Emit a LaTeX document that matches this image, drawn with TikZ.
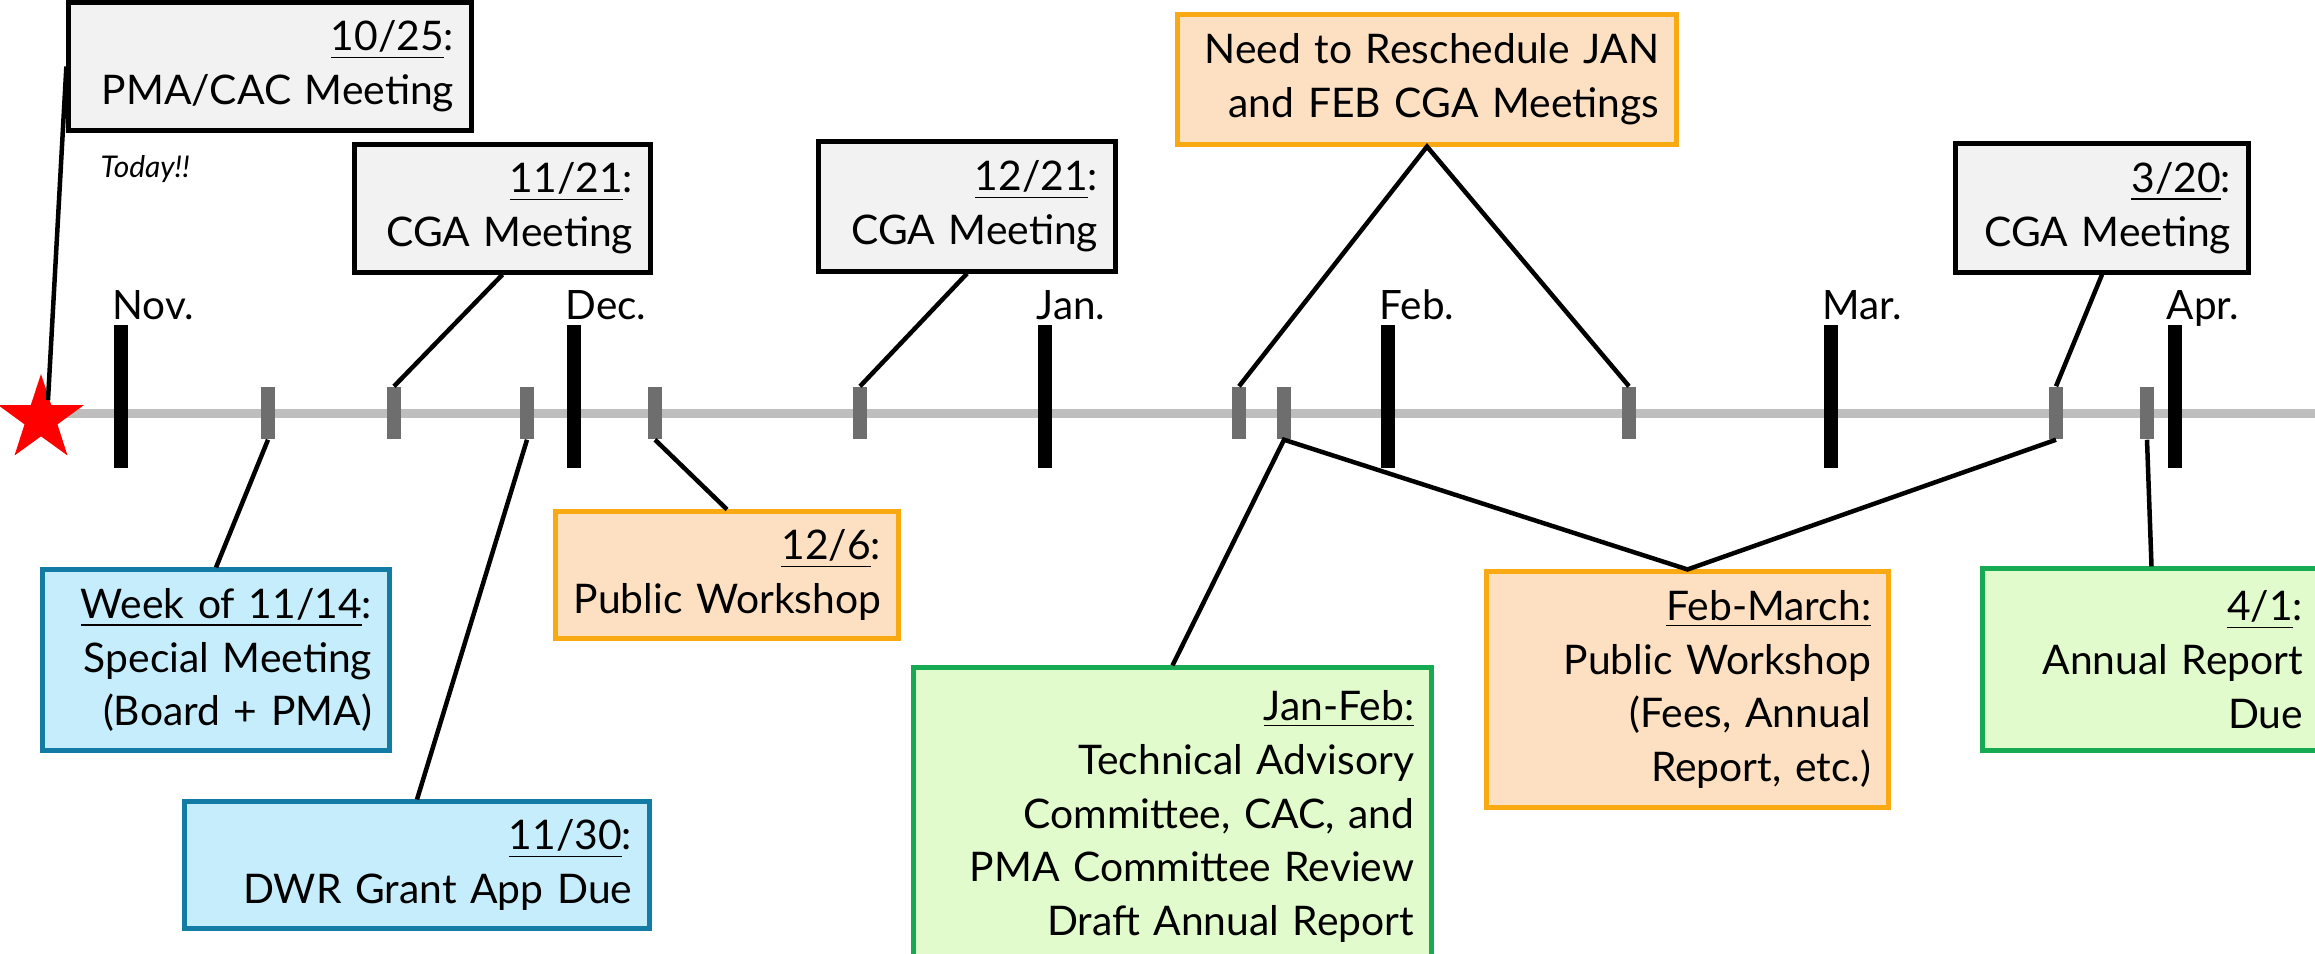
\documentclass[tikz,border=0pt]{standalone}
\usepackage{fontspec}
\setmainfont{Lato}
\usetikzlibrary{shapes.geometric,calc,positioning}

\definecolor{boxgrey}{RGB}{242,242,242}
\definecolor{blueline}{RGB}{18,124,164}
\definecolor{bluefill}{RGB}{198,237,251}
\definecolor{orangeline}{RGB}{249,170,18}
\definecolor{orangefill}{RGB}{253,224,194}
\definecolor{greenline}{RGB}{22,170,82}
\definecolor{greenfill}{RGB}{226,251,205}
\definecolor{linegrey}{RGB}{190,190,190}
\definecolor{tickgrey}{RGB}{110,110,110}

\begin{document}
\begin{tikzpicture}[x=0.01cm,y=-0.01cm,
    evbox/.style={line width=0.05cm,align=right,inner xsep=0.17cm,inner ysep=0pt,
        font=\fontsize{11.6}{15.3}\selectfont},
    greybox/.style={evbox,draw=black,fill=boxgrey},
    bluebox/.style={evbox,draw=blueline,fill=bluefill},
    orangebox/.style={evbox,draw=orangeline,fill=orangefill},
    greenbox/.style={evbox,draw=greenline,fill=greenfill},
    evtick/.style={fill=tickgrey,minimum width=0.14cm,minimum height=0.52cm,inner sep=0pt},
    monthtick/.style={fill=black,minimum width=0.14cm,minimum height=1.43cm,inner sep=0pt},
    monthlab/.style={anchor=base west,inner sep=0pt,font=\fontsize{11.5}{14}\selectfont},
    conn/.style={line width=0.045cm}]
    \useasboundingbox (0,0) rectangle (2315,953);
    \clip (0,0) rectangle (2315,953);

    % time line
    \coordinate (linestart) at (41,413);
    \coordinate (lineend) at (2320,413);
    \draw[linegrey,line width=0.09cm] (linestart) -- (lineend);
    \node[star,star points=5,star point ratio=2.6,fill=red,minimum size=0.9cm,inner sep=0pt] (today) at (41,419) {};
    \coordinate (todaytip) at ($(today.center)+(7,-19)$);
    \node[anchor=base west,inner sep=0pt,font=\itshape\fontsize{8.5}{10}\selectfont] (todaylab) at (100,177) {Today!!};

    % months
    \foreach \x/\m [count=\i] in {121/Nov.,574/Dec.,1045/Jan.,1388/Feb.,1831/Mar.,2175/Apr.} {
        \node[monthtick] (m\i) at (\x,396.5) {};
        \node[monthlab] (ml\i) at (\x-9,319) {\m};
    }

    % event marks
    \foreach \x [count=\i] in {268,394,527,655,860,1239,1284,1629,2056,2147}
        \node[evtick] (t\i) at (\x,413) {};

    % boxes above
    \node[greybox,minimum width=4.02cm,text width=3.68cm,minimum height=1.27cm] (b1025) at (270,66.5)
        {\underline{10/25}:\\PMA/CAC Meeting};
    \node[greybox,minimum width=2.95cm,text width=2.61cm,minimum height=1.27cm] (b1121) at (502.5,208.5)
        {\underline{11/21}:\\CGA Meeting};
    \node[greybox,minimum width=2.96cm,text width=2.62cm,minimum height=1.29cm] (b1221) at (967,206.5)
        {\underline{12/21}:\\CGA Meeting};
    \node[orangebox,minimum width=4.98cm,text width=4.64cm,minimum height=1.29cm] (bresched) at (1427,79.5)
        {Need to Reschedule JAN\\and FEB CGA Meetings};
    \node[greybox,minimum width=2.92cm,text width=2.58cm,minimum height=1.28cm] (b320) at (2102,208)
        {\underline{3/20}:\\CGA Meeting};

    % boxes below
    \node[bluebox,minimum width=3.46cm,text width=3.12cm,minimum height=1.8cm] (bweek) at (216,660)
        {\underline{Week of 11/14}:\\Special Meeting\\(Board + PMA)};
    \node[bluebox,minimum width=4.64cm,text width=4.30cm,minimum height=1.26cm] (b1130) at (417,865)
        {\underline{11/30}:\\DWR Grant App Due};
    \node[orangebox,minimum width=3.42cm,text width=3.08cm,minimum height=1.26cm] (b126) at (727,575)
        {\underline{12/6}:\\Public Workshop};
    \node[greenbox,minimum width=5.17cm,text width=4.83cm,minimum height=2.97cm] (bjanfeb) at (1172.5,816.5)
        {\underline{Jan-Feb:}\\Technical Advisory\\Committee, CAC, and\\PMA Committee Review\\Draft Annual Report};
    \node[orangebox,minimum width=4.01cm,text width=3.67cm,minimum height=2.35cm] (bfebmar) at (1687.5,689.5)
        {\underline{Feb-March:}\\Public Workshop\\(Fees, Annual\\Report, etc.)};
    \node[greenbox,minimum width=3.37cm,text width=3.03cm,minimum height=1.81cm] (b41) at (2151.5,659.5)
        {\underline{4/1}:\\Annual Report\\Due};

    % connectors
    \draw[conn] (b1025.west) -- (todaytip);
    \draw[conn] (b1121.south) -- (t2.north);
    \draw[conn] (b1221.south) -- (t5.north);
    \draw[conn] (t6.north) -- (bresched.south) -- (t8.north);
    \draw[conn] (b320.south) -- (t9.north);
    \draw[conn] (t1.south) -- (bweek.north);
    \draw[conn] (t3.south) -- (b1130.north);
    \draw[conn] (t4.south) -- (b126.north);
    \draw[conn] (bjanfeb.north) -- (t7.south) -- (bfebmar.north) -- (t9.south);
    \draw[conn] (t10.south) -- (b41.north);
\end{tikzpicture}
\end{document}
